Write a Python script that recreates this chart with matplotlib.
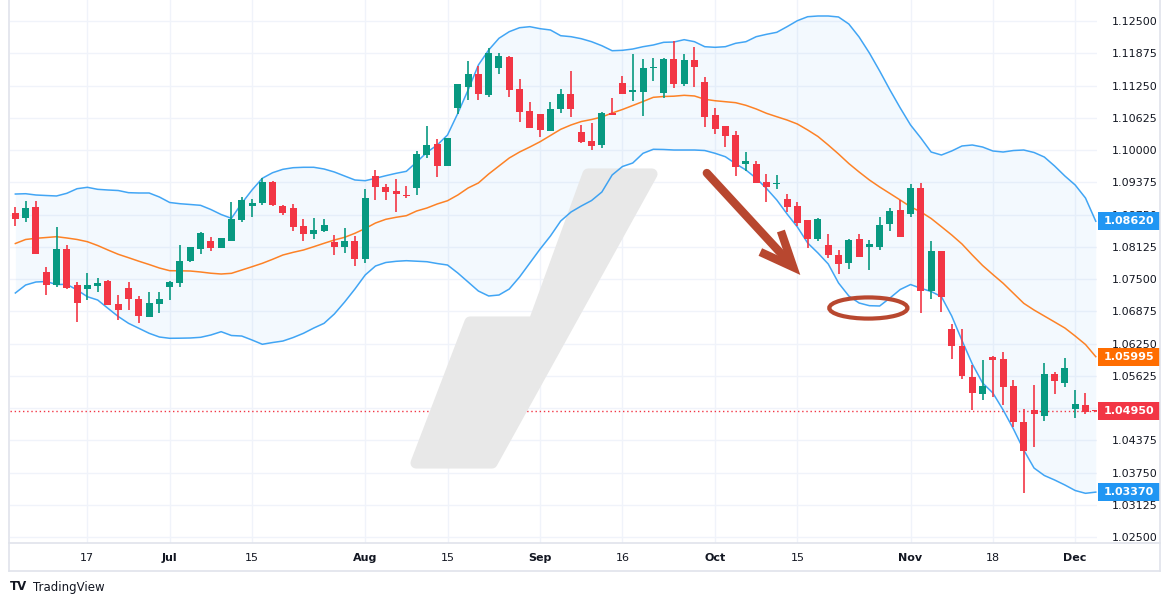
import matplotlib
matplotlib.use("Agg")
import matplotlib.pyplot as plt
import matplotlib.transforms as mtransforms
from matplotlib.patches import Polygon, Rectangle, Ellipse
import numpy as np

# EUR/USD daily candles (open, high, low, close)
opens = [1.08773, 1.08689, 1.08895, 1.07636, 1.07390, 1.08081, 1.07384, 1.07313, 1.07371, 1.07461,
         1.07016, 1.07326, 1.07112, 1.06770, 1.07022, 1.07351, 1.07429, 1.07849, 1.08088, 1.08236,
         1.08107, 1.08243, 1.08650, 1.08921, 1.08979, 1.09380, 1.08921, 1.08876, 1.08527, 1.08379,
         1.08437, 1.08217, 1.08127, 1.08236, 1.07894, 1.09496, 1.09283, 1.09205, 1.09128, 1.09270,
         1.09910, 1.10116, 1.09696, 1.10820, 1.11227, 1.11473, 1.11066, 1.11596, 1.11802, 1.11182,
         1.10756, 1.10698, 1.10375, 1.10801, 1.11085, 1.10349, 1.10174, 1.10103, 1.10717, 1.11298,
         1.11130, 1.11124, 1.11589, 1.11111, 1.11764, 1.11286, 1.11744, 1.11318, 1.10678, 1.10465,
         1.10291, 1.09735, 1.09729, 1.09374, 1.09335, 1.09050, 1.08915, 1.08643, 1.08282, 1.08159,
         1.07965, 1.07816, 1.08275, 1.08127, 1.08127, 1.08572, 1.08837, 1.08766, 1.09264, 1.07274,
         1.08043, 1.06531, 1.06202, 1.05601, 1.05278, 1.05988, 1.05949, 1.05426, 1.04729, 1.04961,
         1.04851, 1.05659, 1.05491, 1.04987, 1.05058, 1.04967]
highs = [1.08889, 1.09012, 1.09012, 1.07733, 1.08508, 1.08159, 1.07442, 1.07616, 1.07520, 1.07474,
         1.07190, 1.07448, 1.07171, 1.07248, 1.07248, 1.07461, 1.08159, 1.08120, 1.08410, 1.08314,
         1.08295, 1.08992, 1.09083, 1.09057, 1.09457, 1.09399, 1.08934, 1.08954, 1.08663, 1.08682,
         1.08663, 1.08353, 1.08488, 1.08333, 1.09244, 1.09612, 1.09341, 1.09438, 1.09302, 1.09981,
         1.10465, 1.10219, 1.10239, 1.11279, 1.11725, 1.11628, 1.11970, 1.11880, 1.11822, 1.11376,
         1.10930, 1.10698, 1.10930, 1.11182, 1.11531, 1.10485, 1.10523, 1.10737, 1.11008, 1.11434,
         1.11861, 1.11764, 1.11783, 1.11783, 1.12112, 1.11861, 1.11996, 1.11415, 1.10814, 1.10465,
         1.10368, 1.09961, 1.09790, 1.09535, 1.09515, 1.09147, 1.08992, 1.08643, 1.08682, 1.08372,
         1.08062, 1.08275, 1.08372, 1.08256, 1.08701, 1.08876, 1.09031, 1.09341, 1.09360, 1.08236,
         1.08043, 1.06628, 1.06531, 1.05833, 1.05930, 1.06008, 1.06085, 1.05543, 1.04987, 1.05446,
         1.05879, 1.05698, 1.05969, 1.05349, 1.05291, 1.04970]
lows = [1.08534, 1.08611, 1.07990, 1.07190, 1.07351, 1.07306, 1.06673, 1.07100, 1.07255, 1.06996,
        1.06712, 1.06900, 1.06647, 1.06770, 1.06848, 1.07100, 1.07351, 1.07836, 1.07990, 1.08043,
        1.08107, 1.08243, 1.08611, 1.08708, 1.08934, 1.08921, 1.08747, 1.08437, 1.08243, 1.08282,
        1.08411, 1.07965, 1.08010, 1.07758, 1.07817, 1.09038, 1.09038, 1.08805, 1.09070, 1.09134,
        1.09851, 1.09483, 1.09696, 1.10698, 1.10969, 1.10969, 1.11034, 1.11473, 1.11027, 1.10543,
        1.10433, 1.10252, 1.10375, 1.10724, 1.10646, 1.10142, 1.10007, 1.10045, 1.10685, 1.11092,
        1.10956, 1.10665, 1.11344, 1.11014, 1.11208, 1.11247, 1.11227, 1.10452, 1.10317, 1.10065,
        1.09503, 1.09600, 1.09367, 1.08998, 1.09250, 1.08798, 1.08534, 1.08107, 1.08243, 1.07913,
        1.07603, 1.07700, 1.07933, 1.07681, 1.08068, 1.08437, 1.08320, 1.08708, 1.06847, 1.07119,
        1.06867, 1.05956, 1.05568, 1.04968, 1.05162, 1.05220, 1.05065, 1.04638, 1.03346, 1.04251,
        1.04755, 1.05278, 1.05413, 1.04813, 1.04889, 1.04930]
closes = [1.08656, 1.08876, 1.07991, 1.07390, 1.08081, 1.07319, 1.07041, 1.07384, 1.07423, 1.06996,
          1.06906, 1.07112, 1.06789, 1.07041, 1.07112, 1.07448, 1.07849, 1.08120, 1.08391, 1.08107,
          1.08295, 1.08663, 1.09031, 1.08973, 1.09380, 1.08941, 1.08786, 1.08514, 1.08379, 1.08450,
          1.08547, 1.08127, 1.08236, 1.07894, 1.09070, 1.09289, 1.09193, 1.09154, 1.09102, 1.09923,
          1.10097, 1.09690, 1.10239, 1.11279, 1.11473, 1.11092, 1.11880, 1.11822, 1.11163, 1.10743,
          1.10433, 1.10394, 1.10795, 1.11085, 1.10801, 1.10162, 1.10084, 1.10717, 1.10685, 1.11092,
          1.11163, 1.11589, 1.11609, 1.11764, 1.11286, 1.11744, 1.11615, 1.10646, 1.10413, 1.10278,
          1.09677, 1.09787, 1.09367, 1.09289, 1.09366, 1.08895, 1.08592, 1.08282, 1.08663, 1.07972,
          1.07797, 1.08256, 1.07933, 1.08178, 1.08546, 1.08818, 1.08320, 1.09264, 1.07267, 1.08043,
          1.07158, 1.06208, 1.05627, 1.05297, 1.05426, 1.05937, 1.05413, 1.04735, 1.04173, 1.04890,
          1.05659, 1.05530, 1.05775, 1.05077, 1.04929, 1.04950]

# Bollinger bands (20, 2)
bb_upper = [1.09147, 1.09153, 1.09128, 1.09118, 1.09109, 1.09161, 1.09250, 1.09277, 1.09238, 1.09225,
            1.09215, 1.09173, 1.09167, 1.09167, 1.09089, 1.08983, 1.08959, 1.08944, 1.08928, 1.08847,
            1.08750, 1.08676, 1.08967, 1.09225, 1.09452, 1.09560, 1.09626, 1.09657, 1.09665, 1.09665,
            1.09632, 1.09574, 1.09496, 1.09419, 1.09405, 1.09452, 1.09502, 1.09548, 1.09587, 1.09767,
            1.09955, 1.10097, 1.10291, 1.10711, 1.11163, 1.11647, 1.11938, 1.12165, 1.12293, 1.12370,
            1.12390, 1.12351, 1.12326, 1.12215, 1.12196, 1.12157, 1.12099, 1.12021, 1.11924, 1.11932,
            1.11957, 1.12002, 1.12035, 1.12087, 1.12093, 1.12138, 1.12099, 1.12002, 1.11990, 1.12002,
            1.12068, 1.12099, 1.12196, 1.12242, 1.12281, 1.12390, 1.12506, 1.12583, 1.12597, 1.12597,
            1.12578, 1.12442, 1.12190, 1.11880, 1.11531, 1.11163, 1.10814, 1.10485, 1.10233, 1.09961,
            1.09903, 1.09981, 1.10078, 1.10097, 1.10058, 1.09981, 1.09961, 1.09990, 1.10000, 1.09952,
            1.09864, 1.09690, 1.09496, 1.09322, 1.09070, 1.08620]
bb_basis = [1.08188, 1.08266, 1.08289, 1.08304, 1.08320, 1.08295, 1.08266, 1.08223, 1.08149, 1.08062,
            1.07979, 1.07913, 1.07845, 1.07781, 1.07713, 1.07661, 1.07659, 1.07655, 1.07636, 1.07612,
            1.07597, 1.07610, 1.07674, 1.07738, 1.07804, 1.07882, 1.07965, 1.08017, 1.08062, 1.08126,
            1.08192, 1.08256, 1.08308, 1.08386, 1.08479, 1.08585, 1.08657, 1.08696, 1.08727, 1.08818,
            1.08876, 1.08954, 1.09017, 1.09128, 1.09264, 1.09361, 1.09535, 1.09690, 1.09845, 1.09961,
            1.10058, 1.10161, 1.10281, 1.10401, 1.10485, 1.10552, 1.10591, 1.10640, 1.10717, 1.10785,
            1.10862, 1.10940, 1.11021, 1.11037, 1.11043, 1.11060, 1.11047, 1.10983, 1.10955, 1.10936,
            1.10917, 1.10866, 1.10795, 1.10711, 1.10645, 1.10581, 1.10504, 1.10388, 1.10262, 1.10097,
            1.09923, 1.09738, 1.09574, 1.09419, 1.09283, 1.09157, 1.09030, 1.08900, 1.08800, 1.08673,
            1.08514, 1.08353, 1.08178, 1.07965, 1.07762, 1.07587, 1.07417, 1.07223, 1.07029, 1.06899,
            1.06783, 1.06667, 1.06550, 1.06395, 1.06231, 1.05995]
bb_lower = [1.07229, 1.07384, 1.07442, 1.07452, 1.07393, 1.07397, 1.07287, 1.07157, 1.07093, 1.06932,
            1.06773, 1.06641, 1.06545, 1.06448, 1.06376, 1.06351, 1.06353, 1.06357, 1.06370, 1.06415,
            1.06479, 1.06405, 1.06395, 1.06318, 1.06235, 1.06269, 1.06298, 1.06366, 1.06448, 1.06550,
            1.06641, 1.06822, 1.07054, 1.07306, 1.07578, 1.07752, 1.07820, 1.07843, 1.07855, 1.07845,
            1.07835, 1.07800, 1.07771, 1.07616, 1.07442, 1.07267, 1.07171, 1.07190, 1.07306, 1.07539,
            1.07810, 1.08081, 1.08333, 1.08624, 1.08798, 1.08915, 1.09021, 1.09186, 1.09516, 1.09680,
            1.09748, 1.09936, 1.10014, 1.10010, 1.10000, 1.10000, 1.10000, 1.09990, 1.09936, 1.09870,
            1.09735, 1.09612, 1.09452, 1.09254, 1.09031, 1.08760, 1.08508, 1.08198, 1.08004, 1.07791,
            1.07423, 1.07171, 1.07035, 1.06983, 1.06977, 1.07132, 1.07297, 1.07393, 1.07320, 1.07258,
            1.07157, 1.06783, 1.06308, 1.05853, 1.05485, 1.05291, 1.04961, 1.04593, 1.04186, 1.03837,
            1.03692, 1.03605, 1.03508, 1.03401, 1.03347, 1.03370]

date_tick_idx = [7, 15, 23, 34, 42, 51, 59, 68, 76, 87, 95, 103]
date_tick_labels = ["17", "Jul", "15", "Aug", "15", "Sep", "16", "Oct", "15", "Nov", "18", "Dec"]
month_labels = {"Jul", "Aug", "Sep", "Oct", "Nov", "Dec"}

price_ticks = [1.025 + 0.00625 * k for k in range(17)]
last_price = 1.04950

UP = "#089981"
DOWN = "#f23645"
BAND = "#2196f3"
BASIS = "#ff6d00"
GRID = "#f0f3fa"
BORDER = "#e0e3eb"
TXT = "#131722"
ANNOT = "#b8472f"

W, H = 1171, 605
fig = plt.figure(figsize=(W / 100, H / 100), dpi=100)
fig.patch.set_facecolor("white")
ax = fig.add_axes([10 / W, 1 - 543 / H, 1087 / W, 543 / H])

x = np.arange(len(closes))
o = np.array(opens)
c = np.array(closes)
hi = np.array(highs)
lo = np.array(lows)
up = c >= o
colors = np.where(up, UP, DOWN)

# bands
ax.fill_between(x, bb_lower, bb_upper, color=BAND, alpha=0.05, linewidth=0, zorder=1)
ax.plot(x, bb_upper, color=BAND, lw=1.1, alpha=0.85, zorder=3)
ax.plot(x, bb_lower, color=BAND, lw=1.1, alpha=0.85, zorder=3)
ax.plot(x, bb_basis, color=BASIS, lw=1.1, alpha=0.85, zorder=3)

# candles
ax.vlines(x, lo, hi, colors=colors, lw=1.2, zorder=4)
body_h = np.maximum(np.abs(c - o), 0.00018)
ax.bar(x, body_h, bottom=np.minimum(o, c), width=0.68, color=colors, linewidth=0, zorder=5)

# last price line
ax.axhline(last_price, color=DOWN, lw=1, ls=(0, (1, 2)), zorder=2)

ax.set_xlim(-0.52, 105.12)
ax.set_ylim(1.02384, 1.12907)

# grid + ticks
ax.set_xticks(date_tick_idx)
ax.set_xticklabels(date_tick_labels)
for t in ax.get_xticklabels():
    t.set_fontsize(8)
    t.set_color(TXT)
    if t.get_text() in month_labels:
        t.set_fontweight("bold")
ax.set_yticks(price_ticks)
# 1.05000 sits fully under the last-price tag, so its text is left out
ax.set_yticklabels(["" if abs(p - 1.05) < 1e-9 else "%.5f" % p for p in price_ticks])
ax.yaxis.tick_right()
ax.tick_params(axis="y", length=0, pad=11, labelsize=8, labelcolor=TXT)
ax.tick_params(axis="x", length=0, pad=7)
ax.grid(True, color=GRID, lw=1, zorder=0)
ax.set_axisbelow(True)
for s in ax.spines.values():
    s.set_visible(False)

# watermark logo
wm_px = [(588, 174), (652, 174), (492, 463), (416, 463), (470, 322), (534, 322)]
wm = Polygon([(px / W, 1 - py / H) for px, py in wm_px], closed=True,
             transform=fig.transFigure, facecolor="#e8e8e8", edgecolor="#e8e8e8",
             lw=8, joinstyle="round", zorder=2, clip_on=False)
ax.add_patch(wm)

# annotation arrow
ax.annotate("", xy=(75.4, 1.0778), xytext=(67.2, 1.09554),
            arrowprops=dict(arrowstyle="-", color=ANNOT, lw=6, shrinkA=0, shrinkB=0), zorder=6)
ax.plot([74.4, 75.6, 72.4], [1.08430, 1.0773, 1.08023], color=ANNOT, lw=6,
        solid_joinstyle="miter", solid_capstyle="butt", zorder=6)
ax.add_patch(Ellipse((82.9, 1.06938), 7.6, 0.0041, fill=False, edgecolor=ANNOT, lw=3, zorder=6))

# price labels on the right axis
blend = mtransforms.blended_transform_factory(ax.transAxes, ax.transData)
labels = [(1.08620, BAND), (1.05995, BASIS), (1.04950, DOWN), (1.03370, BAND)]
half = 9 * (1.12907 - 1.02384) / 543
for val, col in labels:
    ax.add_patch(Rectangle((1.001, val - half), 62 / 1087, 2 * half, transform=blend,
                           facecolor=col, edgecolor="none", clip_on=False, zorder=10))
    ax.text(1.001 + 31 / 1087, val, "%.5f" % val, transform=blend, ha="center", va="center",
            color="white", fontsize=8, fontweight="bold", zorder=11, clip_on=False)

# frame lines
for (x0, y0, x1, y1) in [(9, 0, 9, 571), (9, 571, 1160, 571), (1160, 0, 1160, 571), (9, 543, 1160, 543)]:
    fig.add_artist(plt.Line2D([x0 / W, x1 / W], [1 - y0 / H, 1 - y1 / H], color=BORDER, lw=1.2,
                              transform=fig.transFigure))

fig.text(10 / W, 1 - 587 / H, "TV", fontsize=8.5, fontweight="heavy", color=TXT, va="center")
fig.text(33 / W, 1 - 587 / H, "TradingView", fontsize=8.5, color=TXT, va="center")

fig.savefig("out.png", dpi=100, facecolor="white")
